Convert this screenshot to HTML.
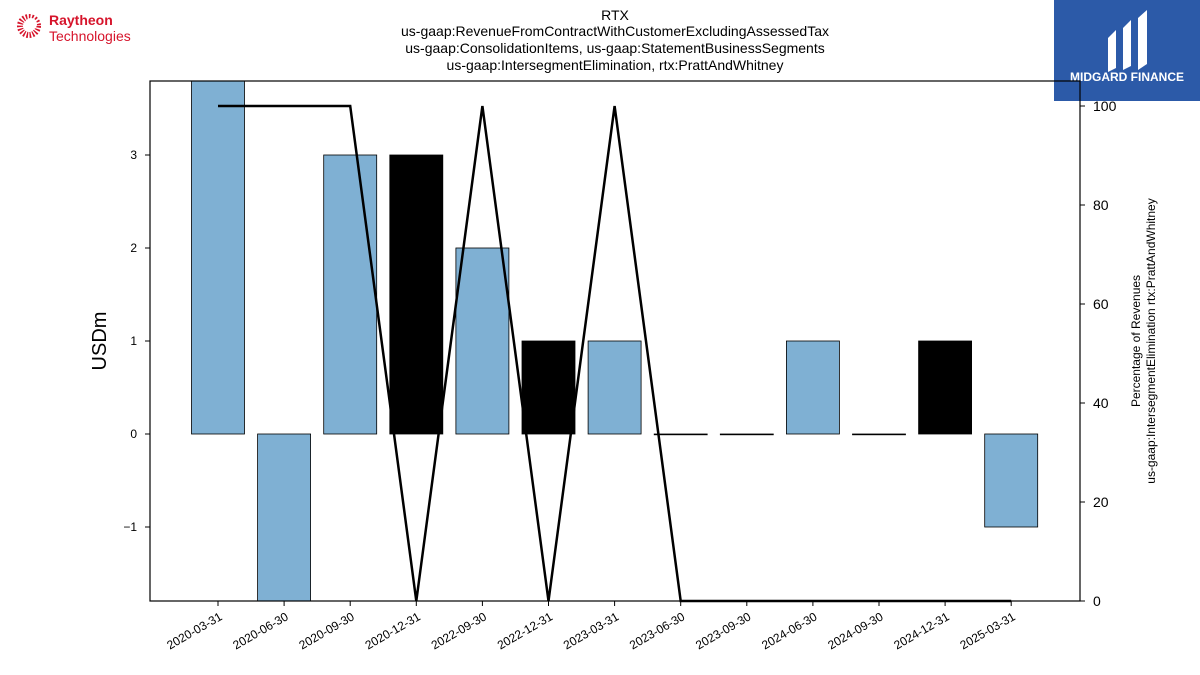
<!DOCTYPE html>
<html><head><meta charset="utf-8"><style>
body{margin:0;background:#fff;font-family:"Liberation Sans",sans-serif}
svg{display:block}
</style></head><body>
<svg id="chart" width="1200" height="675" xmlns="http://www.w3.org/2000/svg" font-family="Liberation Sans, sans-serif">
<g>
  <circle cx="29" cy="26" r="9" fill="none" stroke="#d6142b" stroke-width="6" stroke-dasharray="1.5 1.5"/>
  <circle cx="31" cy="24" r="6" fill="#fff"/>
  <text x="49" y="25" font-size="14" font-weight="bold" fill="#d6142b">Raytheon</text>
  <text x="49" y="41" font-size="14" fill="#d6142b">Technologies</text>
</g>
<g>
  <rect x="1054" y="0" width="146" height="101" fill="#2c5aa8"/>
  <path d="M1108 38 L1116 30 L1116 68 L1108 72 Z M1123 28 L1131 20 L1131 66 L1123 70 Z M1138 18 L1147 10 L1147 64 L1138 70 Z" fill="#fff"/>
  <text x="1127" y="81" font-size="12" font-weight="bold" fill="#fff" text-anchor="middle">MIDGARD FINANCE</text>
</g>
<g font-size="14" text-anchor="middle" fill="#000">
  <text x="615" y="20">RTX</text>
  <text x="615" y="36">us-gaap:RevenueFromContractWithCustomerExcludingAssessedTax</text>
  <text x="615" y="53">us-gaap:ConsolidationItems, us-gaap:StatementBusinessSegments</text>
  <text x="615" y="70">us-gaap:IntersegmentElimination, rtx:PrattAndWhitney</text>
</g>
<defs><clipPath id="plotclip"><rect x="150" y="81" width="930" height="520"/></clipPath></defs>
<g id="bars" clip-path="url(#plotclip)"></g>
<g id="line"></g>
<rect x="150" y="81" width="930" height="520" fill="none" stroke="#000" stroke-width="1.2"/>
<g id="axes"></g>
<text transform="translate(106,341) rotate(-90)" font-size="20" text-anchor="middle">USDm</text>
<text transform="translate(1140,341) rotate(-90)" font-size="12" text-anchor="middle"><tspan x="0" dy="0">Percentage of Revenues</tspan><tspan x="0" dy="15">us-gaap:IntersegmentElimination rtx:PrattAndWhitney</tspan></text>
</svg>
<script>
const categories=["2020-03-31","2020-06-30","2020-09-30","2020-12-31","2022-09-30","2022-12-31","2023-03-31","2023-06-30","2023-09-30","2024-06-30","2024-09-30","2024-12-31","2025-03-31"];
const values=[4,-2,3,3,2,1,1,0,0,1,0,1,-1];
const highlighted=[0,0,0,1,0,1,0,0,0,0,0,1,0];
const percentages=[100,100,100,0,100,0,100,0,0,0,0,0,0];
const yTicks=[-1,0,1,2,3];
const yTickLabels=["\u22121","0","1","2","3"];
const y2Ticks=[0,20,40,60,80,100];
const NS="http://www.w3.org/2000/svg";
const L=150,R=1080,T=81,B=601;
const y=v=>434-v*93;
const y2=v=>601-v*4.95;
const step=66.1;
const x=i=>218+i*step;
const bw=53;
function mk(t,a,p){const e=document.createElementNS(NS,t);for(const k in a)e.setAttribute(k,a[k]);p.appendChild(e);return e;}
const bars=document.getElementById('bars');
values.forEach((v,i)=>{
  const r=mk('rect',{x:x(i)-bw/2,y:Math.min(y(v),y(0)),width:bw,height:Math.max(Math.abs(y(v)-y(0)),0.8),fill:highlighted[i]?'#000':'#7fb0d3',stroke:'#000','stroke-width':0.8},bars);
  
  
});
const line=document.getElementById('line');
const pl=mk('polyline',{points:percentages.map((p,i)=>x(i)+','+y2(p)).join(' '),fill:'none',stroke:'#000','stroke-width':2.5},line);


const ax=document.getElementById('axes');
yTicks.forEach((t,i)=>{
  mk('line',{x1:L-5,x2:L,y1:y(t),y2:y(t),stroke:'#000'},ax);
  const tx=mk('text',{x:L-13,y:y(t)+4,'font-size':12,'text-anchor':'end'},ax);
  tx.textContent=yTickLabels[i];
  
  
});
y2Ticks.forEach(t=>{
  mk('line',{x1:R,x2:R+5,y1:y2(t),y2:y2(t),stroke:'#000'},ax);
  const tx=mk('text',{x:R+13,y:y2(t)+5,'font-size':14},ax);
  tx.textContent=t;
  
  
});
categories.forEach((c,i)=>{
  mk('line',{x1:x(i),x2:x(i),y1:B,y2:B+5,stroke:'#000'},ax);
  const tx=mk('text',{transform:`translate(${x(i)+5},${B+18}) rotate(-30)`,'font-size':12,'text-anchor':'end'},ax);
  tx.textContent=c;
  
  
});
</script>
</body></html>
